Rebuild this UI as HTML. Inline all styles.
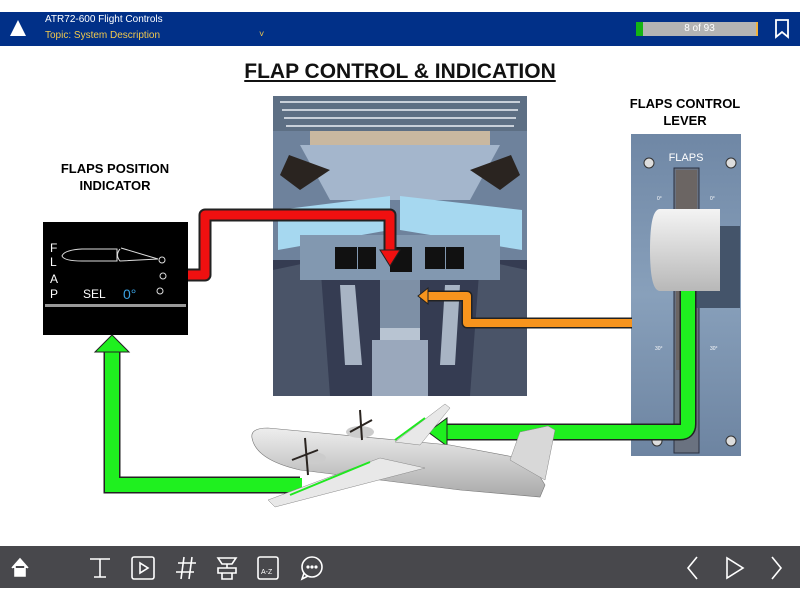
<!DOCTYPE html>
<html><head><meta charset="utf-8"><style>
body{margin:0;width:800px;height:600px;background:#fff;position:relative;overflow:hidden;font-family:"Liberation Sans",sans-serif}
.top{position:absolute;left:0;top:12px;width:800px;height:34px;background:#013088}
.bot{position:absolute;left:0;top:546px;width:800px;height:42px;background:#48484c}
</style></head><body>
<div class="top">
<div style="position:absolute;left:10px;top:8px;width:0;height:0;border-left:8px solid transparent;border-right:8px solid transparent;border-bottom:16px solid #fff"></div>
<div style="position:absolute;left:45px;top:2px;color:#fff;font-size:10px">ATR72-600 Flight Controls</div>
<div style="position:absolute;left:45px;top:18px;color:#f2c94c;font-size:10px">Topic: System Description</div>
<div style="position:absolute;left:259px;top:17px;color:#f2c94c;font-size:9px">˅</div>
<div style="position:absolute;left:636px;top:10px;width:7px;height:14px;background:#14b514"></div>
<div style="position:absolute;left:643px;top:10px;width:113px;height:14px;background:#b4b4b4;color:#fff;font-size:10px;text-align:center;line-height:14px">8 of 93</div>
<div style="position:absolute;left:756px;top:10px;width:2px;height:14px;background:#f2b23c"></div>
<svg style="position:absolute;left:774px;top:7px" width="16" height="20"><path d="M2 1H14V18L8 13L2 18Z" fill="none" stroke="#fff" stroke-width="1.8"/></svg>
</div>

<div style="position:absolute;left:0;top:60px;width:800px;text-align:center;font-size:21px;font-weight:bold;text-decoration:underline;color:#111">FLAP CONTROL &amp; INDICATION</div>
<div style="position:absolute;left:30px;top:160px;width:170px;text-align:center;font-size:13px;font-weight:bold;line-height:17px">FLAPS POSITION<br>INDICATOR</div>
<div style="position:absolute;left:600px;top:95px;width:170px;text-align:center;font-size:13px;font-weight:bold;line-height:17px">FLAPS CONTROL<br>LEVER</div>

<svg style="position:absolute;left:0;top:0" width="800" height="600">
<rect x="43" y="222" width="145" height="113" fill="#000"/>
<g fill="#fff" font-size="12" font-family="Liberation Sans">
<text x="50" y="252">F</text><text x="50" y="266">L</text><text x="50" y="283">A</text><text x="50" y="298">P</text>
<text x="83" y="298" font-size="12">SEL</text>
</g>
<text x="123" y="299" fill="#3aa0e0" font-size="14" font-family="Liberation Sans">0°</text>
<path d="M62 256Q64 250 82 249L117 249L117 261L82 261Q64 261 62 256Z M120 249Q115 255 120 261L158 259L121 248" fill="none" stroke="#ddd" stroke-width="1"/>
<circle cx="162" cy="260" r="3" fill="none" stroke="#ddd"/><circle cx="163" cy="276" r="3" fill="none" stroke="#ddd"/><circle cx="160" cy="291" r="3" fill="none" stroke="#ddd"/>
<rect x="45" y="304" width="141" height="3" fill="#999"/>

<rect x="273" y="96" width="254" height="300" fill="#6e829c"/>
<rect x="273" y="96" width="254" height="35" fill="#5d6f84"/>
<g stroke="#c8d0da" stroke-width="2"><line x1="280" y1="102" x2="520" y2="102"/><line x1="282" y1="110" x2="518" y2="110"/><line x1="284" y1="118" x2="516" y2="118"/><line x1="286" y1="126" x2="514" y2="126"/></g>
<rect x="310" y="131" width="180" height="14" fill="#c9b8a0"/>
<polygon points="300,145 500,145 470,200 330,200" fill="#a4b6cc"/>
<polygon points="289,155 330,170 300,190 280,175" fill="#2a2420"/>
<polygon points="511,155 470,170 500,190 520,175" fill="#2a2420"/>
<polygon points="278,210 390,196 390,230 278,250" fill="#a6d8f0"/>
<polygon points="522,210 400,196 400,230 522,250" fill="#a6d8f0"/>
<polygon points="273,260 527,260 527,396 273,396" fill="#353c52"/>
<polygon points="273,270 320,260 330,396 273,396" fill="#4a5468"/>
<polygon points="527,270 480,260 470,396 527,396" fill="#4a5468"/>
<rect x="300" y="235" width="200" height="45" fill="#8298b0"/>
<rect x="335" y="247" width="22" height="22" fill="#111"/><rect x="358" y="247" width="18" height="22" fill="#111"/>
<rect x="390" y="247" width="22" height="25" fill="#111"/>
<rect x="425" y="247" width="20" height="22" fill="#111"/><rect x="446" y="247" width="18" height="22" fill="#111"/>
<polygon points="340,285 355,285 362,365 345,365" fill="#a8b4c4"/>
<polygon points="445,285 460,285 455,365 440,365" fill="#a8b4c4"/>
<rect x="380" y="280" width="40" height="60" fill="#7e90a6"/>
<rect x="372" y="340" width="56" height="56" fill="#9aa8bc"/>
<rect x="380" y="328" width="40" height="12" fill="#b8c4d2"/>

<defs><linearGradient id="pg" x1="0" y1="0" x2="0" y2="1"><stop offset="0" stop-color="#6f87a5"/><stop offset=".5" stop-color="#88a0bb"/><stop offset="1" stop-color="#6d84a1"/></linearGradient>
<linearGradient id="hg" x1="0" y1="0" x2="0" y2="1"><stop offset="0" stop-color="#f4f4f4"/><stop offset="1" stop-color="#b8b8b8"/></linearGradient>
<linearGradient id="ag" x1="0" y1="0" x2="0" y2="1"><stop offset="0" stop-color="#eee"/><stop offset="1" stop-color="#aaa"/></linearGradient></defs>
<rect x="631" y="134" width="110" height="322" fill="url(#pg)"/>
<text x="686" y="161" fill="#fff" font-size="11" text-anchor="middle" font-family="Liberation Sans">FLAPS</text>
<g fill="#ddd" stroke="#333"><circle cx="649" cy="163" r="5"/><circle cx="731" cy="163" r="5"/><circle cx="657" cy="441" r="5"/><circle cx="731" cy="441" r="5"/><circle cx="688" cy="441" r="5"/></g>
<rect x="674" y="168" width="25" height="285" fill="#6a7280" stroke="#2a3040"/>
<rect x="676" y="170" width="21" height="200" fill="#6b6563"/>
<rect x="683" y="226" width="57" height="82" fill="#44546a"/>
<path d="M660 209H720V291H660Q650 291 650 250Q650 209 660 209Z" fill="url(#hg)"/>
<g fill="#fff" font-size="5" font-family="Liberation Sans"><text x="657" y="200">0°</text><text x="710" y="200">0°</text><text x="655" y="350">30°</text><text x="710" y="350">30°</text></g>

<path d="M632 323H467V296H428" fill="none" stroke="#222" stroke-width="11" stroke-linejoin="round"/>
<path d="M632 323H467V296H428" fill="none" stroke="#f7941d" stroke-width="8" stroke-linejoin="round"/>
<polygon points="428,288 428,304 418,296" fill="#f7941d" stroke="#222"/>
<path d="M188 275H205V215H390V250" fill="none" stroke="#222" stroke-width="13" stroke-linejoin="round"/>
<path d="M188 275H205V215H390V250" fill="none" stroke="#f01010" stroke-width="9" stroke-linejoin="round"/>
<polygon points="380,250 400,250 390,266" fill="#f01010" stroke="#222"/>
<path d="M688 291V424Q688 432 680 432H446" fill="none" stroke="#222" stroke-width="17"/>
<path d="M688 291V424Q688 432 680 432H446" fill="none" stroke="#1ff01f" stroke-width="14"/>
<polygon points="447,418 447,446 428,432" fill="#1ff01f" stroke="#222"/>
<path d="M300 485H112V352" fill="none" stroke="#222" stroke-width="17"/>
<path d="M302 485H112V352" fill="none" stroke="#1ff01f" stroke-width="14"/>
<polygon points="95,352 129,352 112,335" fill="#1ff01f" stroke="#222"/>

<path d="M252 438Q250 428 268 428L450 445L530 460L545 485L540 497L460 490L300 470Q256 460 252 438Z" fill="url(#ag)" stroke="#777" stroke-width=".6"/>
<polygon points="510,460 520,432 548,426 555,430 545,480" fill="#d8d8d8" stroke="#888" stroke-width=".5"/>
<polygon points="395,442 445,404 450,408 420,445" fill="#e8e8e8" stroke="#888" stroke-width=".5"/>
<polygon points="380,458 268,500 275,507 425,468" fill="#e8e8e8" stroke="#888" stroke-width=".5"/>
<ellipse cx="360" cy="432" rx="14" ry="6" fill="#ccc"/><ellipse cx="312" cy="458" rx="14" ry="6" fill="#ccc"/>
<g stroke="#2a2420" stroke-width="2"><line x1="360" y1="410" x2="362" y2="440"/><line x1="350" y1="432" x2="372" y2="420"/><line x1="305" y1="438" x2="308" y2="475"/><line x1="292" y1="460" x2="318" y2="450"/></g>
<g stroke="#1fe81f" stroke-width="2"><line x1="395" y1="440" x2="425" y2="418"/><line x1="290" y1="495" x2="370" y2="462"/></g>
</svg>

<div class="bot">
<svg width="800" height="42" style="position:absolute;left:0;top:0" fill="none" stroke="#fff" stroke-width="1.6">
<path d="M12 22L20 13L28 22M15 20V30H25V20" fill="#fff"/>
<path d="M90 13H110M100 13V31M94 31H106"/>
<rect x="132" y="11" width="22" height="22" rx="2"/><path d="M140 17V27L148 22Z"/>
<path d="M178 17H196M176 26H194M184 11L181 33M192 11L189 33"/>
<path d="M218 12H236L232 18H222ZM227 18V22M218 22H236V27H218ZM222 27V33H232V27"/>
<rect x="258" y="11" width="20" height="22" rx="2"/><text x="261" y="28" font-size="7" fill="#fff" stroke="none" font-family="Liberation Sans">A-Z</text>
<circle cx="312" cy="21" r="10"/><path d="M304 27L302 33L308 30"/><circle cx="308" cy="21" r=".8" fill="#fff"/><circle cx="312" cy="21" r=".8" fill="#fff"/><circle cx="316" cy="21" r=".8" fill="#fff"/>
<path d="M697 11L688 22L697 33M727 12V32L743 22ZM772 11L781 22L772 33"/>
</svg>
</div>
</body></html>
